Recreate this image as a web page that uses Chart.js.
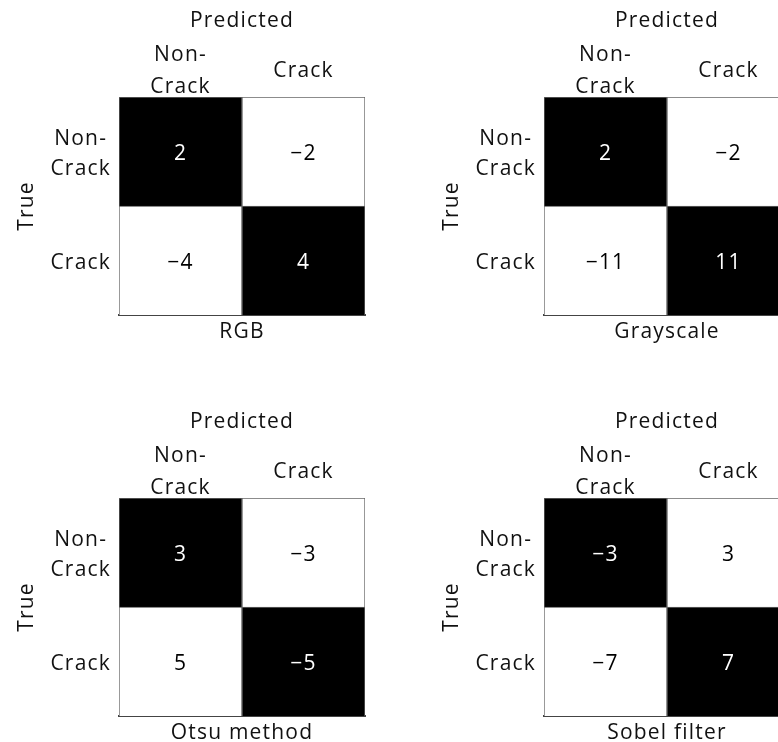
<!DOCTYPE html>
<html>
<head>
<meta charset="utf-8">
<script src="https://cdn.jsdelivr.net/npm/chart.js@4.4.1/dist/chart.umd.min.js"></script>
<style>
  html, body { margin: 0; padding: 0; background: #fff; width: 778px; height: 742px; overflow: hidden; }
  canvas { position: absolute; }
</style>
</head>
<body>
<canvas id="panel0" width="400" height="360" style="left:0px;top:0px"></canvas>
<canvas id="panel1" width="400" height="360" style="left:425px;top:0px"></canvas>
<canvas id="panel2" width="400" height="360" style="left:0px;top:401px"></canvas>
<canvas id="panel3" width="400" height="360" style="left:425px;top:401px"></canvas>
<script>
// Column (predicted) and row (true) class labels
const predictedLabels = [['Non-', 'Crack'], 'Crack'];
const trueLabels = [['Non-', 'Crack'], 'Crack'];

// Panel captions
const panelTitles = ['RGB', 'Grayscale', 'Otsu method', 'Sobel filter'];

// Cell values, one row per true class, one column per predicted class
const rgbValues       = [[2, -2], [-4, 4]];
const grayscaleValues = [[2, -2], [-11, 11]];
const otsuValues      = [[3, -3], [5, -5]];
const sobelValues     = [[-3, 3], [-7, 7]];

const panelValues = [rgbValues, grayscaleValues, otsuValues, sobelValues];

const FONT = 'Open Sans';
const WEIGHT = 500;
const TEXT = '#111';
const SPACING = '1.2px';

// Slightly spaced lettering for every text drawn on the canvas
const spacingPlugin = {
  id: 'spacing',
  beforeLayout(chart) { chart.ctx.letterSpacing = SPACING; },
  beforeDraw(chart) { chart.ctx.letterSpacing = SPACING; }
};

// Writes each cell's value at the centre of its bar
const cellValuePlugin = {
  id: 'cellValues',
  afterDatasetsDraw(chart, args, opts) {
    const ctx = chart.ctx;
    ctx.save();
    ctx.font = `${WEIGHT} 21px "${FONT}"`;
    ctx.textAlign = 'center';
    ctx.textBaseline = 'middle';
    chart.data.datasets.forEach((ds, d) => {
      const meta = chart.getDatasetMeta(d);
      meta.data.forEach((el, c) => {
        const v = opts.values[ds.rowIndex][c];
        const txt = v < 0 ? '\u2212' + Math.abs(v) : String(v);
        const p = el.getCenterPoint();
        ctx.fillStyle = c === ds.rowIndex ? '#fff' : '#000';
        ctx.fillText(txt, p.x, p.y + 2.5);
      });
    });
    ctx.restore();
  }
};

function makePanel(id, values, caption) {
  // One stacked dataset per true-class row; the first listed sits at the bottom
  const datasets = trueLabels.map((lab, r) => ({
    label: Array.isArray(lab) ? lab.join('') : lab,
    rowIndex: r,
    data: predictedLabels.map(() => 1),
    backgroundColor: predictedLabels.map((_, c) => (c === r ? '#000' : '#fff')),
    borderColor: '#666',
    borderWidth: 1,
    barPercentage: 1,
    categoryPercentage: 1
  })).reverse();

  const titleFont = { family: FONT, size: 21, weight: WEIGHT };

  return new Chart(document.getElementById(id), {
    type: 'bar',
    data: { labels: predictedLabels, datasets },
    plugins: [spacingPlugin, cellValuePlugin],
    options: {
      responsive: false,
      animation: false,
      devicePixelRatio: 1,
      layout: { padding: { left: 0, top: 0, right: 35, bottom: 0 } },
      plugins: {
        legend: { display: false },
        tooltip: { enabled: false },
        cellValues: { values }
      },
      scales: {
        x: {
          type: 'category',
          position: 'top',
          stacked: true,
          offset: true,
          grid: { display: false, drawTicks: false },
          border: { display: false },
          ticks: {
            font: { family: FONT, size: 21, weight: WEIGHT, lineHeight: 1.5 },
            color: TEXT, padding: 10, crossAlign: 'center', maxRotation: 0, autoSkip: false
          },
          title: { display: true, text: 'Predicted', color: TEXT, font: titleFont, padding: { top: 8, bottom: 0 } },
          afterFit(s) { s.height = 97; }
        },
        x2: {
          type: 'category',
          position: 'bottom',
          grid: { display: false, drawTicks: false },
          border: { display: true, color: '#444', width: 2 },
          ticks: { display: false },
          title: { display: true, text: caption, color: TEXT, font: titleFont, padding: { top: 0, bottom: 15 } },
          afterFit(s) { s.height = 45; }
        },
        y: {
          type: 'linear',
          min: 0,
          max: 2,
          stacked: true,
          grid: { display: false, drawTicks: false },
          border: { display: false },
          afterBuildTicks(s) { s.ticks = [{ value: 1.5 }, { value: 0.5 }]; },
          ticks: {
            font: { family: FONT, size: 21, weight: WEIGHT, lineHeight: 1.4 },
            color: TEXT,
            padding: 8,
            labelOffset: 2.5,
            crossAlign: 'center',
            callback: v => (v > 1 ? trueLabels[0] : trueLabels[1])
          },
          title: { display: true, text: 'True', color: TEXT, font: { family: FONT, size: 21, weight: WEIGHT }, padding: { top: 14, bottom: 0 } },
          afterFit(s) { s.width = 119; }
        }
      }
    }
  });
}

panelValues.forEach((vals, i) => makePanel('panel' + i, vals, panelTitles[i]));
</script>
</body>
</html>
